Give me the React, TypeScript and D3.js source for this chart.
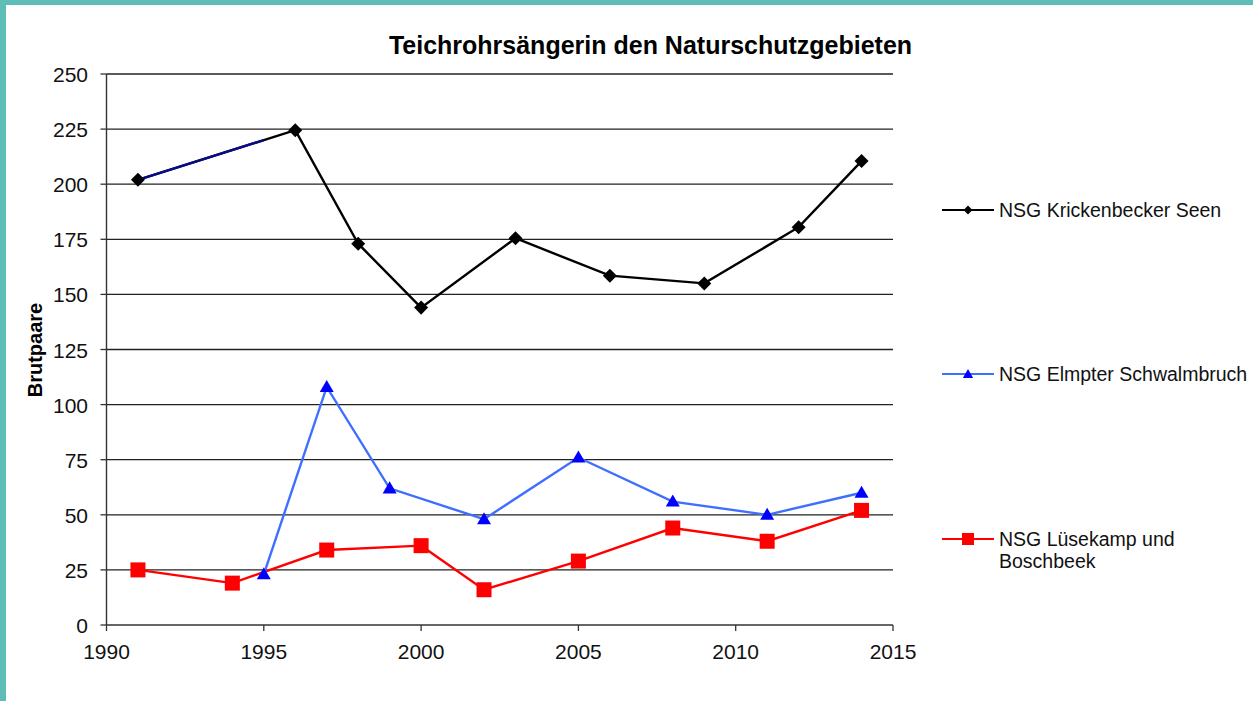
import React from "react";
import * as d3 from "d3";

const TITLE = "Teichrohrsängerin den Naturschutzgebieten";
const Y_LABEL = "Brutpaare";
const X_TICKS = [1990, 1995, 2000, 2005, 2010, 2015];
const Y_TICKS = [0, 25, 50, 75, 100, 125, 150, 175, 200, 225, 250];

const krickenbeckerYears = [1991, 1996, 1998, 2000, 2003, 2006, 2009, 2012, 2014];
const krickenbeckerValues = [202, 224.5, 173, 144, 175.5, 158.5, 155, 180.5, 210.5];

const elmpterYears = [1995, 1997, 1999, 2002, 2005, 2008, 2011, 2014];
const elmpterValues = [23, 108, 62, 48, 76, 56, 50, 60];

const luesekampYears = [1991, 1994, 1997, 2000, 2002, 2005, 2008, 2011, 2014];
const luesekampValues = [25, 19, 34, 36, 16, 29, 44, 38, 52];

const legendLabels = [
  ["NSG Krickenbecker Seen"],
  ["NSG Elmpter Schwalmbruch"],
  ["NSG Lüsekamp und", "Boschbeek"],
];

const W = 1253;
const H = 701;
const M = { left: 106.5, right: 893, top: 74, bottom: 625 };
const FONT = "'Liberation Sans', Arial, sans-serif";

export default function App() {
  const x = d3.scaleLinear().domain([1990, 2015]).range([M.left, M.right]);
  const y = d3.scaleLinear().domain([0, 250]).range([M.bottom, M.top]);

  const mk = (years: number[], vals: number[]) => years.map((yr, i) => [x(yr), y(vals[i])] as [number, number]);
  const line = d3.line();

  const kPts = mk(krickenbeckerYears, krickenbeckerValues);
  const ePts = mk(elmpterYears, elmpterValues);
  const lPts = mk(luesekampYears, luesekampValues);

  // navy portion of first Krickenbecker segment
  const p0 = kPts[0];
  const p1 = kPts[1];
  const t = 0.8;
  const navyEnd: [number, number] = [p0[0] + (p1[0] - p0[0]) * t, p0[1] + (p1[1] - p0[1]) * t];

  const diamond = d3.symbol().type(d3.symbolDiamond2).size(125)();
  const tri = d3.symbol().type(d3.symbolTriangle2).size(140)();

  const legendY = [210, 374, 539];
  const lx0 = 942;
  const lx1 = 994;

  return (
    <svg width={W} height={H} style={{ position: "absolute", left: 0, top: 0, background: "#fff" }}>
      <rect x={0} y={0} width={W} height={H} fill="#fff" />
      <rect x={0} y={0} width={W} height={5} fill="#5fbdb7" />
      <rect x={0} y={0} width={6} height={H} fill="#5fbdb7" />

      <text x={650.5} y={54} textAnchor="middle" fontFamily={FONT} fontWeight="bold" fontSize={25} fill="#000">
        {TITLE}
      </text>

      {/* gridlines */}
      {Y_TICKS.filter((v) => v > 0).map((v) => (
        <line key={v} x1={M.left} x2={M.right} y1={y(v)} y2={y(v)} stroke="#222" strokeWidth={1.3} />
      ))}
      {/* axes */}
      <line x1={M.left} x2={M.left} y1={M.top} y2={M.bottom} stroke="#333" strokeWidth={1.4} />
      <line x1={M.left} x2={M.right} y1={M.bottom} y2={M.bottom} stroke="#333" strokeWidth={1.4} />
      {Y_TICKS.map((v) => (
        <g key={v}>
          <line x1={M.left - 6} x2={M.left} y1={y(v)} y2={y(v)} stroke="#333" strokeWidth={1.3} />
          <text x={88} y={y(v) + 8} textAnchor="end" fontFamily={FONT} fontSize={21} fill="#111">
            {v}
          </text>
        </g>
      ))}
      {X_TICKS.map((v) => (
        <g key={v}>
          <line x1={x(v)} x2={x(v)} y1={M.bottom} y2={M.bottom + 6} stroke="#333" strokeWidth={1.3} />
          <text x={x(v)} y={659} textAnchor="middle" fontFamily={FONT} fontSize={21} fill="#111">
            {v}
          </text>
        </g>
      ))}
      <text
        transform={`translate(42, ${350}) rotate(-90)`}
        textAnchor="middle"
        fontFamily={FONT}
        fontWeight="bold"
        fontSize={20}
        fill="#000"
      >
        {Y_LABEL}
      </text>

      {/* series lines */}
      <path d={line(lPts) || ""} fill="none" stroke="#ff0000" strokeWidth={2.4} />
      <path d={line(ePts) || ""} fill="none" stroke="#3f6fff" strokeWidth={2.4} />
      <path d={line(kPts) || ""} fill="none" stroke="#000" strokeWidth={2.4} />
      <path d={line([p0, navyEnd]) || ""} fill="none" stroke="#0a0a8a" strokeWidth={2.4} />

      {/* markers */}
      {lPts.map((p, i) => (
        <rect key={i} x={p[0] - 7.5} y={p[1] - 7.5} width={15} height={15} fill="#ff0000" />
      ))}
      {ePts.map((p, i) => (
        <path key={i} d={tri || ""} transform={`translate(${p[0]},${p[1] + 1})`} fill="#0000ff" />
      ))}
      {kPts.map((p, i) => (
        <path key={i} d={diamond || ""} transform={`translate(${p[0]},${p[1]})`} fill="#000" />
      ))}

      {/* legend */}
      <line x1={lx0} x2={lx1} y1={legendY[0]} y2={legendY[0]} stroke="#000" strokeWidth={2.2} />
      <path d={d3.symbol().type(d3.symbolDiamond2).size(50)() || ""} transform={`translate(${(lx0 + lx1) / 2},${legendY[0]})`} fill="#000" />
      <line x1={lx0} x2={lx1} y1={legendY[1]} y2={legendY[1]} stroke="#3f6fff" strokeWidth={2.2} />
      <path d={d3.symbol().type(d3.symbolTriangle2).size(75)() || ""} transform={`translate(${(lx0 + lx1) / 2},${legendY[1] + 1})`} fill="#0000ff" />
      <line x1={lx0} x2={lx1} y1={legendY[2]} y2={legendY[2]} stroke="#ff0000" strokeWidth={2.2} />
      <rect x={(lx0 + lx1) / 2 - 6} y={legendY[2] - 6} width={12} height={12} fill="#ff0000" />
      {legendLabels.map((lines, i) => (
        <text key={i} x={999} y={legendY[i] + 7} fontFamily={FONT} fontSize={19.5} fill="#111">
          {lines.map((s, j) => (
            <tspan key={j} x={999} dy={j === 0 ? 0 : 22}>
              {s}
            </tspan>
          ))}
        </text>
      ))}
    </svg>
  );
}
